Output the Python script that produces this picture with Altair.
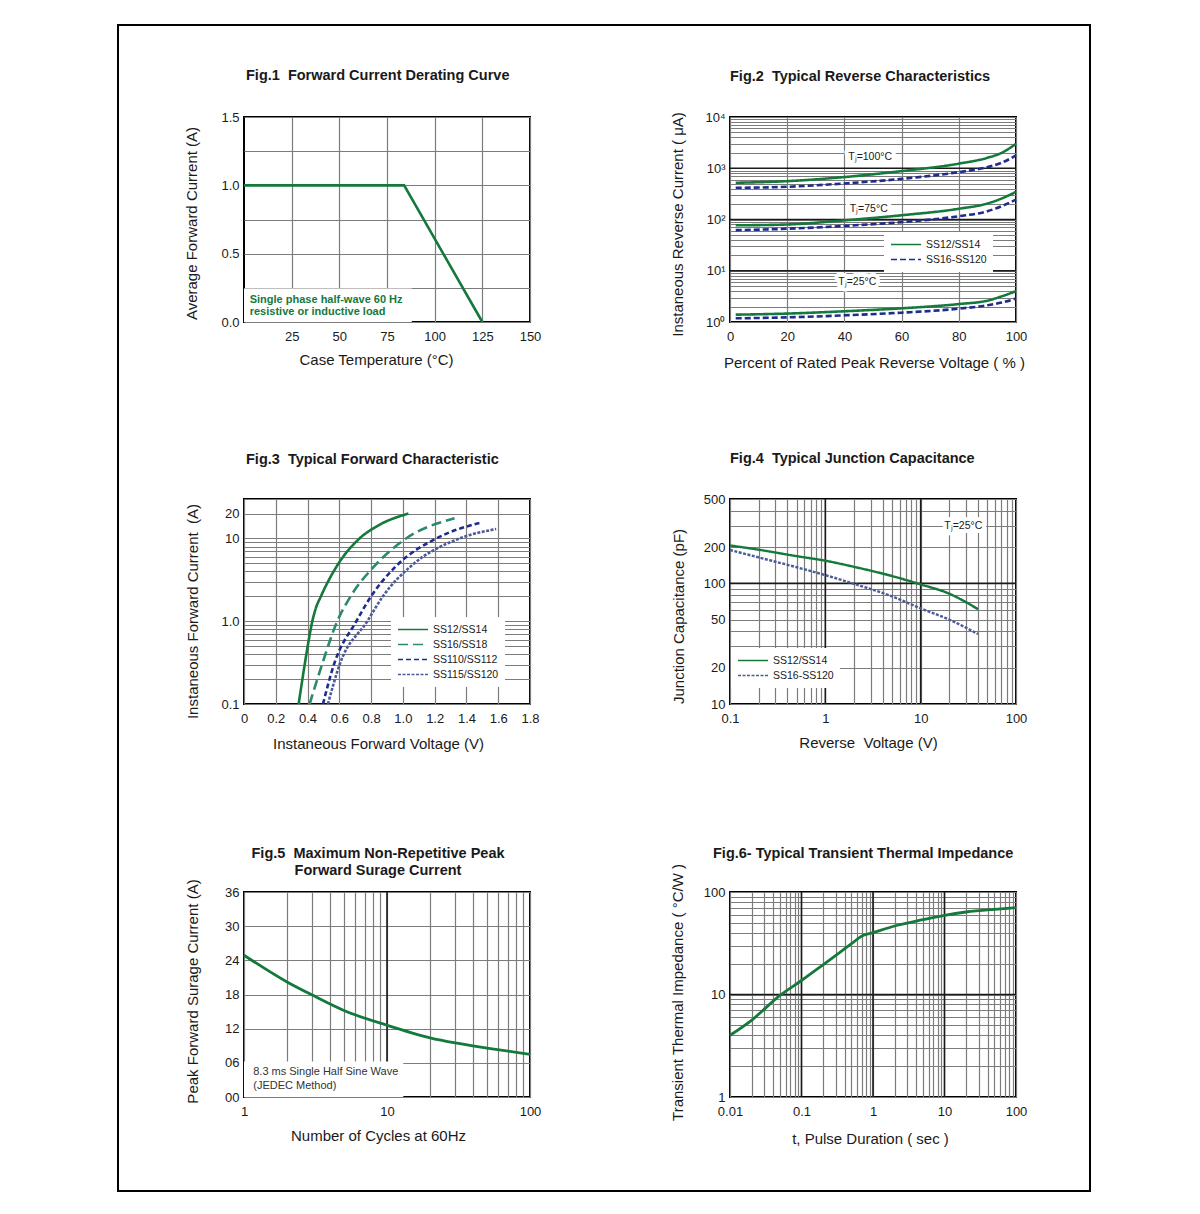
import altair as alt
import pandas as pd

FONT = "Liberation Sans"
INK = "#1a1a1a"
GREEN = "#14793b"
NAVY = "#1f2b8f"
TEAL = "#2b8a6c"
SLATE = "#4b5b97"
GRID = "#7c7c7c"
MAJOR = "#1a1a1a"
PW, PH = 286, 205
NB = "\u00a0"  # keeps the double spaces of the original titles

# ---------------- data ----------------
# Fig.1
f1_temp = [0, 84, 125]
f1_current = [1.0, 1.0, 0.0]
f1_xticks = [25, 50, 75, 100, 125, 150]
f1_yticks = [0, 0.25, 0.5, 0.75, 1.0, 1.25, 1.5]
f1_ylabels = {0: "0.0", 0.5: "0.5", 1.0: "1.0", 1.5: "1.5"}
f1_note = ["Single phase half-wave 60 Hz", "resistive or inductive load"]
f1_note_x = [3, 3]
f1_note_y = [0.163, 0.075]
f1_box_x = [0, 88]
f1_box_y = [0, 0.245]

# Fig.2
f2_pct = [2, 20, 40, 60, 80, 90, 95, 100]
f2_ss12_100 = [521, 560, 673, 880, 1230, 1600, 2000, 3000]
f2_ss16_100 = [415, 435, 505, 620, 840, 1050, 1280, 1780]
f2_ss12_75 = [77, 80, 96, 121, 162, 205, 257, 347]
f2_ss16_75 = [62, 66, 75, 89, 116, 145, 182, 245]
f2_ss12_25 = [1.39, 1.46, 1.62, 1.85, 2.24, 2.61, 3.17, 4.0]
f2_ss16_25 = [1.18, 1.23, 1.35, 1.52, 1.82, 2.12, 2.39, 2.86]
f2_series = ["SS12/SS14", "SS16-SS120"]
f2_xticks = [0, 20, 40, 60, 80, 100]
f2_ylabels = {1: "10⁰", 10: "10¹", 100: "10²", 1000: "10³", 10000: "10⁴"}
f2_major = [10, 100, 1000]
f2_tj = ["Tⱼ=100°C", "Tⱼ=75°C", "Tⱼ=25°C"]
f2_tj_x = [49, 48.5, 44.5]
f2_tj_y = [1660, 160, 6.0]

# Fig.3
f3_series = ["SS12/SS14", "SS16/SS18", "SS110/SS112", "SS115/SS120"]
f3_ss12_v = [0.344, 0.382, 0.408, 0.43, 0.45, 0.484, 0.585, 0.727, 0.843, 1.035]
f3_ss12_i = [0.1, 0.3, 0.6, 1.0, 1.4, 2.0, 4.66, 10, 14.3, 20]
f3_ss16_v = [0.413, 0.491, 0.587, 0.671, 0.822, 1.02, 1.325]
f3_ss16_i = [0.1, 0.3, 1.0, 2.0, 4.66, 10, 17.5]
f3_ss110_v = [0.497, 0.566, 0.707, 0.80, 0.958, 1.21, 1.493]
f3_ss110_i = [0.1, 0.3, 1.0, 2.0, 4.66, 10, 15.6]
f3_ss115_v = [0.528, 0.602, 0.776, 0.874, 1.052, 1.356, 1.587]
f3_ss115_i = [0.1, 0.3, 1.0, 2.0, 4.66, 10, 13.0]
f3_xticks = [0, 0.2, 0.4, 0.6, 0.8, 1.0, 1.2, 1.4, 1.6, 1.8]
f3_xlabels = {0: "0", 0.2: "0.2", 0.4: "0.4", 0.6: "0.6", 0.8: "0.8", 1.0: "1.0",
              1.2: "1.2", 1.4: "1.4", 1.6: "1.6", 1.8: "1.8"}
f3_ylabels = {0.1: "0.1", 1: "1.0", 10: "10", 20: "20"}

# Fig.4
f4_v = [0.1, 0.2, 0.5, 1, 2, 5, 10, 20, 40]
f4_ss12 = [206, 190, 168, 154, 137, 115, 98, 82, 61]
f4_ss16 = [189, 164, 136, 117, 99, 78, 62, 50, 38]
f4_series = ["SS12/SS14", "SS16-SS120"]
f4_xlabels = {0.1: "0.1", 1: "1", 10: "10", 100: "100"}
f4_ylabels = {10: "10", 20: "20", 50: "50", 100: "100", 200: "200", 500: "500"}
f4_xmajor = [1, 10]
f4_ymajor = [100]
f4_tj = ["Tⱼ=25°C"]
f4_tj_x = [28]
f4_tj_y = [300]

# Fig.5
f5_n = [1, 2, 3, 5, 10, 20, 30, 50, 100]
f5_i = [24.9, 20.2, 17.9, 15.2, 12.6, 10.4, 9.5, 8.6, 7.5]
f5_yticks = [0, 6, 12, 18, 24, 30, 36]
f5_xlabels = {1: "1", 10: "10", 100: "100"}
f5_xmajor = [10]
f5_note = ["8.3 ms Single Half Sine Wave", "(JEDEC Method)"]
f5_note_x = [1.16, 1.16]
f5_note_y = [4.4, 1.95]
f5_box_x = [1, 13]
f5_box_y = [0, 6.25]

# Fig.6
f6_t = [0.01, 0.02, 0.05, 0.1, 0.2, 0.5, 0.7, 1, 2, 5, 10, 20, 50, 100]
f6_z = [4.0, 5.6, 9.8, 13.7, 19.5, 31.3, 37.2, 40.1, 46.6, 53.7, 59.2, 63.8, 67.8, 70.3]
f6_xlabels = {0.01: "0.01", 0.1: "0.1", 1: "1", 10: "10", 100: "100"}
f6_ylabels = {1: "1", 10: "10", 100: "100"}
f6_xmajor = [0.1, 1, 10]
f6_ymajor = [10]


# ---------------- helpers ----------------
def decade_values(lo_exp, hi_exp, extra=()):
    vals = []
    for e in range(lo_exp, hi_exp):
        for k in range(1, 10):
            vals.append(round(k * 10.0 ** e, 6))
    vals.append(round(10.0 ** hi_exp, 6))
    vals.extend(extra)
    return vals


def lbl_expr(mapping):
    expr = "''"
    for v, t in reversed(list(mapping.items())):
        tol = abs(v) * 1e-6 + 1e-9
        expr = f"abs(datum.value - {v}) < {tol} ? '{t}' : ({expr})"
    return expr


def axis_x(values, labels, title, tx, ty):
    return alt.Axis(values=values, labelExpr=lbl_expr(labels), title=title,
                    titleX=tx, titleY=ty, titleBaseline="middle", grid=True,
                    ticks=False, domain=False, labelFlush=False, labelOverlap=False,
                    labelPadding=8)


def axis_y(values, labels, title, tx, ty):
    return alt.Axis(values=values, labelExpr=lbl_expr(labels), title=title,
                    titleX=tx, titleY=ty, titleBaseline="middle", grid=True,
                    ticks=False, domain=False, labelFlush=False, labelOverlap=False,
                    labelPadding=5)


def legend(lx, ly):
    return alt.Legend(title=None, orient="none", legendX=lx, legendY=ly,
                      fillColor="white", symbolType="stroke", symbolSize=900,
                      symbolStrokeWidth=1.5, labelFont=FONT, labelFontSize=10.5,
                      labelColor=INK, padding=6, clipHeight=13, rowPadding=2,
                      labelOffset=4)


def ttl(text, anchor, dx, offset):
    return alt.TitleParams(text=text, anchor=anchor, frame="group", dx=dx,
                           offset=offset, fontSize=14.5, fontWeight="bold",
                           font=FONT, color=INK, baseline="bottom", lineHeight=17)


def rules_x(vals, xs, xa):
    return alt.Chart(pd.DataFrame({"x": vals})).mark_rule(
        color=MAJOR, strokeWidth=1.6).encode(x=alt.X("x:Q", scale=xs, axis=xa))


def rules_y(vals, ys, ya):
    return alt.Chart(pd.DataFrame({"y": vals})).mark_rule(
        color=MAJOR, strokeWidth=1.6).encode(y=alt.Y("y:Q", scale=ys, axis=ya))


def white_box(bx, by, xs, ys, xa, ya):
    df = pd.DataFrame({"x": [bx[0]], "x2": [bx[1]], "y": [by[0]], "y2": [by[1]]})
    return alt.Chart(df).mark_rect(color="white").encode(
        x=alt.X("x:Q", scale=xs, axis=xa), x2="x2",
        y=alt.Y("y:Q", scale=ys, axis=ya), y2="y2")


def halo_labels(texts, tx, ty, xs, ys, xa, ya):
    df = pd.DataFrame({"x": tx, "y": ty, "t": texts})
    enc = dict(x=alt.X("x:Q", scale=xs, axis=xa), y=alt.Y("y:Q", scale=ys, axis=ya),
               text="t:N")
    halo = alt.Chart(df).mark_text(font=FONT, fontSize=10.5, color="white",
                                   stroke="white", strokeWidth=8,
                                   strokeJoin="round").encode(**enc)
    txt = alt.Chart(df).mark_text(font=FONT, fontSize=10.5, color=INK).encode(**enc)
    return halo, txt


# ---------------- Fig.1 ----------------
f1_xs = alt.Scale(domain=[0, 150], nice=False, zero=False)
f1_ys = alt.Scale(domain=[0, 1.5], nice=False)
f1_xa = axis_x(f1_xticks, {v: str(v) for v in f1_xticks}, "Case Temperature (°C)", 132, 37)
f1_ya = axis_y(f1_yticks, f1_ylabels, "Average Forward Current (A)", -53, 106)

frame = alt.Chart(pd.DataFrame({"k": [0]})).mark_rect(
    fillOpacity=0, stroke="black", strokeWidth=2).encode(
    x=alt.value(-126), x2=alt.value(846), y=alt.value(-92), y2=alt.value(1074))

f1_line = alt.Chart(pd.DataFrame({"x": f1_temp, "y": f1_current})).mark_line(
    color=GREEN, strokeWidth=2.6).encode(
    x=alt.X("x:Q", scale=f1_xs, axis=f1_xa), y=alt.Y("y:Q", scale=f1_ys, axis=f1_ya))
f1_text = alt.Chart(pd.DataFrame({"x": f1_note_x, "y": f1_note_y, "t": f1_note})).mark_text(
    align="left", baseline="middle", font=FONT, fontSize=11, fontWeight="bold",
    color=GREEN).encode(x=alt.X("x:Q", scale=f1_xs, axis=f1_xa),
                        y=alt.Y("y:Q", scale=f1_ys, axis=f1_ya), text="t:N")
fig1 = alt.layer(
    frame, white_box(f1_box_x, f1_box_y, f1_xs, f1_ys, f1_xa, f1_ya), f1_line, f1_text
).properties(width=PW, height=PH,
             title=ttl(f"Fig.1{NB} Forward Current Derating Curve", "start", 2, -73))

# ---------------- Fig.2 ----------------
f2_xs = alt.Scale(domain=[0, 100], nice=False)
f2_ys = alt.Scale(type="log", domain=[1, 10000], nice=False)
f2_xa = axis_x(f2_xticks, {v: str(v) for v in f2_xticks},
               "Percent of Rated Peak Reverse Voltage ( % )", 144, 40)
f2_ya = axis_y(decade_values(0, 4), f2_ylabels, "Instaneous Reverse Current ( μA)", -53, 107)
rows = []
for temp, s12, s16 in [(100, f2_ss12_100, f2_ss16_100), (75, f2_ss12_75, f2_ss16_75),
                       (25, f2_ss12_25, f2_ss16_25)]:
    for x, a, b in zip(f2_pct, s12, s16):
        rows.append({"x": x, "y": a, "series": f2_series[0], "temp": temp})
        rows.append({"x": x, "y": b, "series": f2_series[1], "temp": temp})
f2_leg = legend(154, 115)
f2_lines = alt.Chart(pd.DataFrame(rows)).mark_line(interpolate="monotone", strokeWidth=2.6).encode(
    x=alt.X("x:Q", scale=f2_xs, axis=f2_xa), y=alt.Y("y:Q", scale=f2_ys, axis=f2_ya),
    color=alt.Color("series:N", scale=alt.Scale(domain=f2_series, range=[GREEN, NAVY]), legend=f2_leg),
    strokeDash=alt.StrokeDash("series:N", scale=alt.Scale(domain=f2_series, range=[[1, 0], [6, 3]]),
                              legend=f2_leg),
    detail="temp:N")
h2, t2 = halo_labels(f2_tj, f2_tj_x, f2_tj_y, f2_xs, f2_ys, f2_xa, f2_ya)
fig2 = alt.layer(rules_y(f2_major, f2_ys, f2_ya), h2, f2_lines, t2).properties(
    width=PW, height=PH, title=ttl(f"Fig.2{NB} Typical Reverse Characteristics", "start", 0, 13))

# ---------------- Fig.3 ----------------
f3_xs = alt.Scale(domain=[0, 1.8], nice=False)
f3_ys = alt.Scale(type="log", domain=[0.1, 30], nice=False)
f3_xa = axis_x(f3_xticks, f3_xlabels, "Instaneous Forward Voltage (V)", 134, 39)
f3_ya = axis_y(decade_values(-1, 1, extra=(20, 30)), f3_ylabels,
               f"Instaneous Forward Current{NB} (A)", -52, 112)
rows = []
for name, vv, ii in zip(f3_series, [f3_ss12_v, f3_ss16_v, f3_ss110_v, f3_ss115_v],
                        [f3_ss12_i, f3_ss16_i, f3_ss110_i, f3_ss115_i]):
    for v, i in zip(vv, ii):
        rows.append({"x": v, "y": i, "series": name})
f3_leg = legend(147, 118)
f3_lines = alt.Chart(pd.DataFrame(rows)).mark_line(interpolate="monotone", strokeWidth=2.6).encode(
    x=alt.X("x:Q", scale=f3_xs, axis=f3_xa), y=alt.Y("y:Q", scale=f3_ys, axis=f3_ya),
    color=alt.Color("series:N", scale=alt.Scale(domain=f3_series, range=[GREEN, TEAL, NAVY, SLATE]),
                    legend=f3_leg),
    strokeDash=alt.StrokeDash("series:N", scale=alt.Scale(
        domain=f3_series, range=[[1, 0], [10, 5], [5, 3], [3, 1.5]]), legend=f3_leg))
fig3 = alt.layer(f3_lines).properties(
    width=PW, height=PH, title=ttl(f"Fig.3{NB} Typical Forward Characteristic", "start", 2, 12))

# ---------------- Fig.4 ----------------
f4_xs = alt.Scale(type="log", domain=[0.1, 100], nice=False)
f4_ys = alt.Scale(type="log", domain=[10, 500], nice=False)
f4_xa = axis_x(decade_values(-1, 2), f4_xlabels, f"Reverse{NB} Voltage (V)", 138, 38)
f4_ya = axis_y(decade_values(1, 2, extra=(200, 300, 400, 500)), f4_ylabels,
               "Junction Capacitance (pF)", -52, 117)
rows = []
for x, a, b in zip(f4_v, f4_ss12, f4_ss16):
    rows.append({"x": x, "y": a, "series": f4_series[0]})
    rows.append({"x": x, "y": b, "series": f4_series[1]})
f4_leg = legend(1, 149)
f4_lines = alt.Chart(pd.DataFrame(rows)).mark_line(interpolate="monotone", strokeWidth=2.4).encode(
    x=alt.X("x:Q", scale=f4_xs, axis=f4_xa), y=alt.Y("y:Q", scale=f4_ys, axis=f4_ya),
    color=alt.Color("series:N", scale=alt.Scale(domain=f4_series, range=[GREEN, SLATE]), legend=f4_leg),
    strokeDash=alt.StrokeDash("series:N", scale=alt.Scale(domain=f4_series, range=[[1, 0], [3, 1.5]]),
                              legend=f4_leg))
h4, t4 = halo_labels(f4_tj, f4_tj_x, f4_tj_y, f4_xs, f4_ys, f4_xa, f4_ya)
fig4 = alt.layer(rules_x(f4_xmajor, f4_xs, f4_xa), rules_y(f4_ymajor, f4_ys, f4_ya), h4,
                 f4_lines, t4).properties(
    width=PW, height=PH, title=ttl(f"Fig.4{NB} Typical Junction Capacitance", "start", 0, 13))

# ---------------- Fig.5 ----------------
f5_xs = alt.Scale(type="log", domain=[1, 100], nice=False)
f5_ys = alt.Scale(domain=[0, 36], nice=False)
f5_xa = axis_x(decade_values(0, 2), f5_xlabels, "Number of Cycles at 60Hz", 134, 38)
f5_ya = alt.Axis(values=f5_yticks, format="02d", title="Peak Forward Surage Current (A)",
                 titleX=-52, titleY=99, titleBaseline="middle", grid=True, ticks=False,
                 domain=False, labelFlush=False, labelOverlap=False, labelPadding=5)
f5_line = alt.Chart(pd.DataFrame({"x": f5_n, "y": f5_i})).mark_line(
    interpolate="monotone", color=GREEN, strokeWidth=2.8).encode(
    x=alt.X("x:Q", scale=f5_xs, axis=f5_xa), y=alt.Y("y:Q", scale=f5_ys, axis=f5_ya))
f5_text = alt.Chart(pd.DataFrame({"x": f5_note_x, "y": f5_note_y, "t": f5_note})).mark_text(
    align="left", baseline="middle", font=FONT, fontSize=11, color="#333333").encode(
    x=alt.X("x:Q", scale=f5_xs, axis=f5_xa), y=alt.Y("y:Q", scale=f5_ys, axis=f5_ya), text="t:N")
fig5 = alt.layer(rules_x(f5_xmajor, f5_xs, f5_xa),
                 white_box(f5_box_x, f5_box_y, f5_xs, f5_ys, f5_xa, f5_ya),
                 f5_line, f5_text).properties(
    width=PW, height=PH,
    title=ttl([f"Fig.5{NB} Maximum Non-Repetitive Peak", "Forward Surage Current"],
              "middle", -9, -14))

# ---------------- Fig.6 ----------------
f6_xs = alt.Scale(type="log", domain=[0.01, 100], nice=False)
f6_ys = alt.Scale(type="log", domain=[1, 100], nice=False)
f6_xa = axis_x(decade_values(-2, 2), f6_xlabels, "t, Pulse Duration ( sec )", 140, 41)
f6_ya = axis_y(decade_values(0, 2), f6_ylabels, "Transient Thermal Impedance ( °C/W )", -53, 100)
f6_line = alt.Chart(pd.DataFrame({"x": f6_t, "y": f6_z})).mark_line(
    interpolate="monotone", color=GREEN, strokeWidth=2.8).encode(
    x=alt.X("x:Q", scale=f6_xs, axis=f6_xa), y=alt.Y("y:Q", scale=f6_ys, axis=f6_ya))
fig6 = alt.layer(rules_x(f6_xmajor, f6_xs, f6_xa), rules_y(f6_ymajor, f6_ys, f6_ya),
                 f6_line).properties(
    width=PW, height=PH, title=ttl("Fig.6- Typical Transient Thermal Impedance", "start", -17, -12))

# ---------------- layout ----------------
# With flush bounds, nested concat rows count as zero-height, so the row
# spacing below is the distance between the tops of consecutive rows.
def indep(c):
    return c.resolve_scale(color="independent", strokeDash="independent")

row1 = indep(alt.hconcat(fig1, fig2, spacing=200, bounds="flush"))
row2 = indep(alt.hconcat(fig3, fig4, spacing=200, bounds="flush"))
row3 = indep(alt.hconcat(fig5, fig6, spacing=200, bounds="flush"))
top = indep(alt.vconcat(row1, row2, spacing=382, bounds="flush"))
chart = indep(alt.vconcat(top, row3, spacing=775, bounds="flush"))

chart = chart.properties(
    padding={"left": 108, "top": 15, "right": 5, "bottom": 5}
).configure(font=FONT).configure_view(
    stroke="black", strokeWidth=2
).configure_axis(
    labelFont=FONT, labelFontSize=13, labelColor=INK, titleFont=FONT, titleFontSize=15,
    titleFontWeight="normal", titleColor=INK, gridColor=GRID, gridWidth=1.2
)

chart.save("out.html", embed_options={"renderer": "svg", "actions": False})
